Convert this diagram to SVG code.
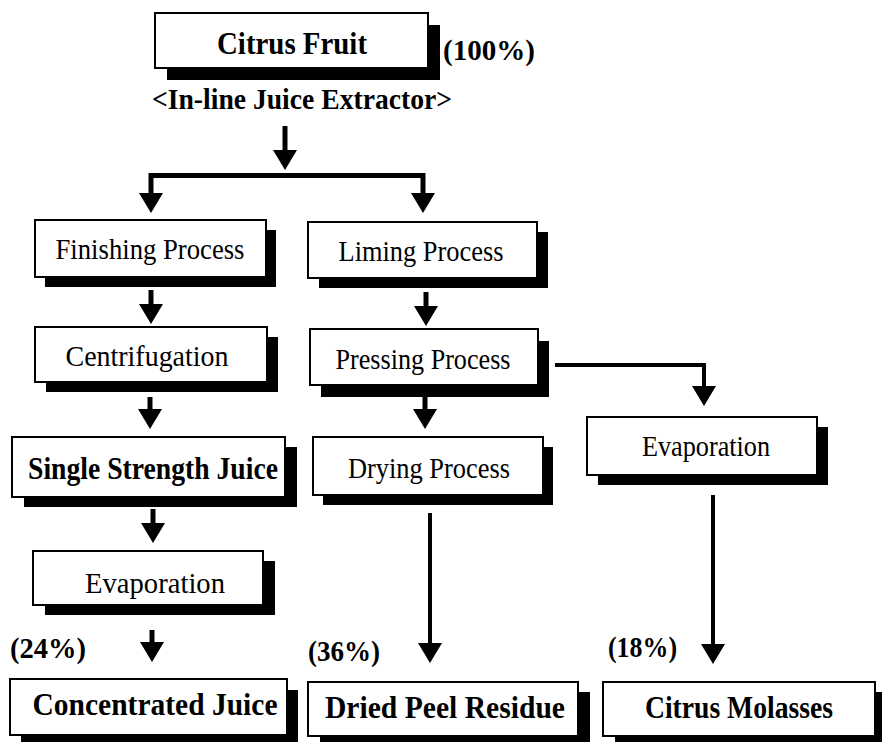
<svg xmlns="http://www.w3.org/2000/svg" width="882" height="742" viewBox="0 0 882 742">
  <style>
    .box { fill: #ffffff; stroke: #000000; stroke-width: 2; }
    .shadow { fill: #000000; }
    .lbl { font-family: "Liberation Serif", "Times New Roman", serif; font-size: 29px; fill: #000000; text-anchor: middle; }
    .bold { font-weight: bold; font-size: 31px; }
    .pct { font-family: "Liberation Serif", "Times New Roman", serif; font-size: 30px; font-weight: bold; fill: #000000; }
    .flow { fill: none; stroke: #000000; stroke-width: 5; }
    .thin { stroke-width: 4; }
  </style>
  <defs>
    <marker id="head" markerUnits="userSpaceOnUse" markerWidth="20" markerHeight="24" viewBox="0 0 20 24" refX="0" refY="12" orient="auto">
      <path d="M0,0 L20,12 L0,24 Z" fill="#000000"/>
    </marker>
  </defs>
  <rect width="882" height="742" fill="#ffffff"/>

  <!-- connectors -->
  <g id="connectors">
    <path class="flow" d="M285,126 V150" marker-end="url(#head)"/>
    <path class="flow" d="M150,175.5 H424"/>
    <path class="flow" d="M151,173 V193" marker-end="url(#head)"/>
    <path class="flow" d="M423,173 V193" marker-end="url(#head)"/>
    <path class="flow" d="M151,290 V304" marker-end="url(#head)"/>
    <path class="flow" d="M426,292 V306" marker-end="url(#head)"/>
    <path class="flow" d="M150,397 V409" marker-end="url(#head)"/>
    <path class="flow" d="M425,397 V409" marker-end="url(#head)"/>
    <path class="flow" d="M153,509 V523" marker-end="url(#head)"/>
    <path class="flow" d="M152,630 V642" marker-end="url(#head)"/>
    <path class="flow thin" d="M555,365 H704 V386" marker-end="url(#head)"/>
    <path class="flow thin" d="M430,513 V643" marker-end="url(#head)"/>
    <path class="flow thin" d="M713,495 V644" marker-end="url(#head)"/>
  </g>

  <g id="citrus-fruit">
    <rect class="shadow" x="167" y="25" width="273" height="55"/>
    <rect class="box" x="155" y="13" width="273" height="55"/>
    <text class="lbl bold" x="292" y="54" textLength="150" lengthAdjust="spacingAndGlyphs">Citrus Fruit</text>
  </g>
  <text id="pct-100" class="pct" x="443" y="60" textLength="92" lengthAdjust="spacingAndGlyphs">(100%)</text>
  <text id="extractor" class="pct" x="152" y="109" textLength="300" lengthAdjust="spacingAndGlyphs">&lt;In-line Juice Extractor&gt;</text>

  <g id="finishing">
    <rect class="shadow" x="45" y="230" width="231" height="57"/>
    <rect class="box" x="35" y="220" width="231" height="57"/>
    <text class="lbl" x="150" y="259" textLength="189" lengthAdjust="spacingAndGlyphs">Finishing Process</text>
  </g>

  <g id="liming">
    <rect class="shadow" x="319" y="232" width="229" height="56"/>
    <rect class="box" x="308" y="222" width="229" height="56"/>
    <text class="lbl" x="421" y="261" textLength="165" lengthAdjust="spacingAndGlyphs">Liming Process</text>
  </g>

  <g id="centrifugation">
    <rect class="shadow" x="46" y="337" width="232" height="55"/>
    <rect class="box" x="35" y="327" width="232" height="55"/>
    <text class="lbl" x="147" y="366" textLength="163" lengthAdjust="spacingAndGlyphs">Centrifugation</text>
  </g>

  <g id="pressing">
    <rect class="shadow" x="321" y="341" width="228" height="56"/>
    <rect class="box" x="310" y="329" width="228" height="56"/>
    <text class="lbl" x="423" y="369" textLength="175" lengthAdjust="spacingAndGlyphs">Pressing Process</text>
  </g>

  <g id="single-strength">
    <rect class="shadow" x="24" y="447" width="273" height="60"/>
    <rect class="box" x="12" y="437" width="273" height="60"/>
    <text class="lbl bold" x="153" y="479" textLength="250" lengthAdjust="spacingAndGlyphs">Single Strength Juice</text>
  </g>

  <g id="drying">
    <rect class="shadow" x="323" y="447" width="230" height="58"/>
    <rect class="box" x="313" y="437" width="230" height="58"/>
    <text class="lbl" x="429" y="478" textLength="162" lengthAdjust="spacingAndGlyphs">Drying Process</text>
  </g>

  <g id="evaporation-right">
    <rect class="shadow" x="598" y="427" width="230" height="58"/>
    <rect class="box" x="587" y="417" width="230" height="58"/>
    <text class="lbl" x="706" y="456" textLength="128" lengthAdjust="spacingAndGlyphs">Evaporation</text>
  </g>

  <g id="evaporation-left">
    <rect class="shadow" x="45" y="561" width="230" height="54"/>
    <rect class="box" x="33" y="551" width="230" height="54"/>
    <text class="lbl" x="155" y="593" textLength="140" lengthAdjust="spacingAndGlyphs">Evaporation</text>
  </g>

  <text id="pct-24" class="pct" x="10" y="658" textLength="76" lengthAdjust="spacingAndGlyphs">(24%)</text>
  <text id="pct-36" class="pct" x="308" y="661" textLength="72" lengthAdjust="spacingAndGlyphs">(36%)</text>
  <text id="pct-18" class="pct" x="608" y="657" textLength="69" lengthAdjust="spacingAndGlyphs">(18%)</text>

  <g id="concentrated">
    <rect class="shadow" x="21" y="690" width="277" height="56"/>
    <rect class="box" x="10" y="679" width="277" height="56"/>
    <text class="lbl bold" x="155" y="715" textLength="245" lengthAdjust="spacingAndGlyphs">Concentrated Juice</text>
  </g>

  <g id="dried-peel">
    <rect class="shadow" x="320" y="692" width="270" height="54"/>
    <rect class="box" x="308" y="682" width="270" height="54"/>
    <text class="lbl bold" x="445" y="718" textLength="240" lengthAdjust="spacingAndGlyphs">Dried Peel Residue</text>
  </g>

  <g id="molasses">
    <rect class="shadow" x="615" y="692" width="272" height="54"/>
    <rect class="box" x="603" y="682" width="272" height="54"/>
    <text class="lbl bold" x="739" y="718" textLength="188" lengthAdjust="spacingAndGlyphs">Citrus Molasses</text>
  </g>
</svg>
